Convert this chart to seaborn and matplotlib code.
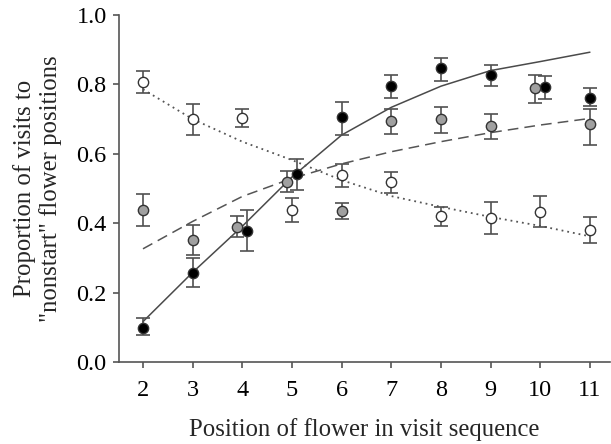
import numpy as np
import pandas as pd
import matplotlib
matplotlib.use("Agg")
import matplotlib.pyplot as plt
import seaborn as sns

# ---- data ----
positions = [2, 3, 4, 5, 6, 7, 8, 9, 10, 11]

black_x = [2, 3, 4.1, 5.1, 6, 7, 8, 9, 10.1, 11]
black_y = [0.099, 0.256, 0.378, 0.542, 0.705, 0.795, 0.846, 0.827, 0.792, 0.760]
black_lo = [0.022, 0.041, 0.057, 0.046, 0.051, 0.035, 0.036, 0.032, 0.035, 0.023]
black_hi = [0.027, 0.044, 0.060, 0.043, 0.044, 0.032, 0.029, 0.029, 0.031, 0.029]

gray_x = [2, 3, 3.9, 4.9, 6, 7, 8, 9, 9.9, 11]
gray_y = [0.438, 0.350, 0.390, 0.520, 0.435, 0.695, 0.699, 0.680, 0.791, 0.686]
gray_lo = [0.045, 0.042, 0.031, 0.031, 0.023, 0.039, 0.038, 0.038, 0.044, 0.061]
gray_hi = [0.046, 0.045, 0.032, 0.031, 0.024, 0.035, 0.037, 0.035, 0.036, 0.042]

white_x = [2, 3, 4, 5, 6, 7, 8, 9, 10, 11]
white_y = [0.808, 0.700, 0.702, 0.438, 0.539, 0.520, 0.421, 0.414, 0.433, 0.380]
white_lo = [0.034, 0.046, 0.026, 0.035, 0.034, 0.032, 0.029, 0.046, 0.043, 0.036]
white_hi = [0.032, 0.044, 0.026, 0.034, 0.033, 0.028, 0.027, 0.048, 0.045, 0.037]

fit_solid = [0.116, 0.258, 0.391, 0.533, 0.654, 0.734, 0.795, 0.840, 0.866, 0.893]
fit_dashed = [0.326, 0.405, 0.477, 0.529, 0.571, 0.606, 0.635, 0.661, 0.683, 0.702]
fit_dotted = [0.786, 0.700, 0.635, 0.582, 0.524, 0.478, 0.447, 0.418, 0.392, 0.362]

xticks = [2, 3, 4, 5, 6, 7, 8, 9, 10, 11]
yticks = [0.0, 0.2, 0.4, 0.6, 0.8, 1.0]

# ---- style ----
sns.set_theme(style="ticks")
plt.rcParams["font.family"] = ["Liberation Serif", "DejaVu Serif"]

fig = plt.figure(figsize=(6.11, 4.44), dpi=100)
ax = fig.add_axes([0.195, 0.185, 0.803, 0.781])

line_col = "#4a4a4a"
err_col = "#505050"

fits = pd.DataFrame({"x": positions, "solid": fit_solid,
                     "dashed": fit_dashed, "dotted": fit_dotted})
sns.lineplot(data=fits, x="x", y="solid", ax=ax, color=line_col,
             lw=1.1, linestyle="-", zorder=2)
sns.lineplot(data=fits, x="x", y="dashed", ax=ax, color="#555555",
             lw=1.1, zorder=2).lines[-1].set_dashes([7, 4])
sns.lineplot(data=fits, x="x", y="dotted", ax=ax, color="#555555",
             lw=1.3, zorder=2).lines[-1].set_dashes([1, 2.2])

series = [
    (black_x, black_y, black_lo, black_hi, "#000000"),
    (gray_x, gray_y, gray_lo, gray_hi, "#a0a0a0"),
    (white_x, white_y, white_lo, white_hi, "#ffffff"),
]
for xs, ys, lo, hi, fc in series:
    ax.errorbar(xs, ys, yerr=[lo, hi], fmt="none", ecolor=err_col,
                elinewidth=1.2, capsize=5, capthick=1.2, zorder=3)
    df = pd.DataFrame({"x": xs, "y": ys})
    sns.scatterplot(data=df, x="x", y="y", ax=ax, color=fc,
                    edgecolor="#333333", linewidth=1.0, s=55, zorder=4)

ax.set_xlim(1.52, 11.4)
ax.set_ylim(0, 1.0)
ax.set_xticks(xticks)
ax.set_xticklabels([str(t) for t in xticks])
ax.set_yticks(yticks)
ax.set_yticklabels([f"{t:.1f}" for t in yticks])

for side in ["top", "right"]:
    ax.spines[side].set_visible(False)
for side in ["left", "bottom"]:
    ax.spines[side].set_color("#555555")
    ax.spines[side].set_linewidth(1.2)
ax.tick_params(axis="both", colors="#555555", length=4, width=1.2,
               labelsize=17.5, labelcolor="black")
ax.tick_params(axis="x", pad=9)
ax.tick_params(axis="y", pad=5)

ax.set_xlabel("Position of flower in visit sequence", fontsize=17.8, labelpad=12)
ax.set_ylabel("Proportion of visits to\n\"nonstart\" flower positions",
              fontsize=17.8, labelpad=10, linespacing=1.2)

fig.savefig("out.png", dpi=100)
